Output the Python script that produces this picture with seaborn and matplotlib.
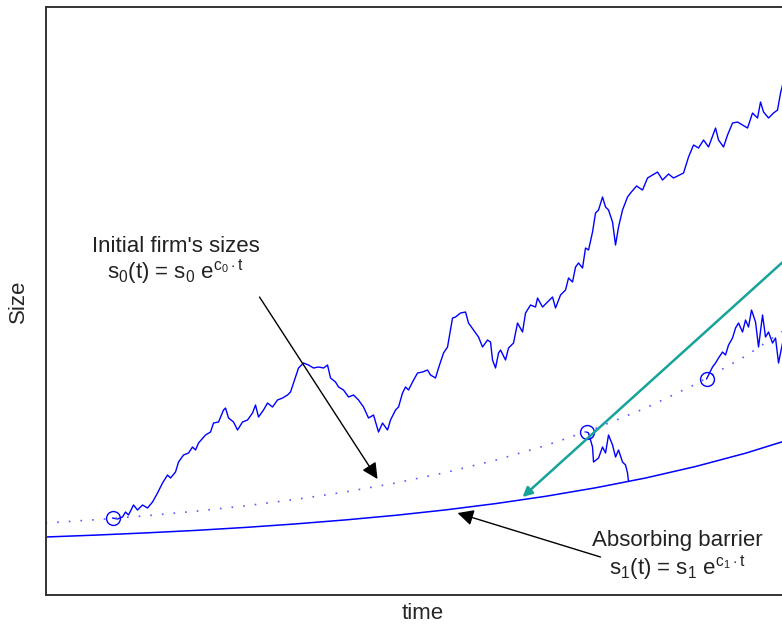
import matplotlib
matplotlib.use("Agg")
import matplotlib.pyplot as plt
import seaborn as sns
import pandas as pd

# ---- data (arbitrary time / size units) ----
# surviving firm, entered at the first circle
path_a_time = [6.7, 7.2, 7.7, 8.0, 8.3, 8.8, 9.2, 9.7, 10.2, 10.7, 11.2, 11.7, 12.2, 12.5, 13.0, 13.3,
               13.8, 14.3, 14.7, 15.0, 15.3, 16.0, 16.5, 16.8, 17.3, 17.8, 18.0, 18.3, 18.8, 19.2, 19.7,
               20.2, 20.7, 21.0, 21.3, 21.8, 22.2, 22.7, 23.2, 23.7, 24.2, 24.5, 24.8, 25.0, 25.3, 25.8,
               26.3, 26.8, 27.3, 27.8, 28.2, 28.5, 29.0, 29.3, 29.8, 30.3, 30.8, 31.3, 31.8, 32.3, 32.8,
               33.3, 33.7, 34.2, 34.5, 35.0, 35.3, 35.7, 36.0, 36.3, 36.7, 37.2, 37.7, 38.2, 38.5, 39.0,
               39.3, 39.8, 40.2, 40.7, 41.0, 41.5, 42.0, 42.3, 42.8, 43.3, 43.7, 44.2, 44.5, 44.7, 45.0,
               45.3, 45.5, 46.0, 46.3, 46.8, 47.2, 47.7, 48.0, 48.5, 49.0, 49.2, 49.7, 50.2, 50.7, 51.0,
               51.5, 52.0, 52.3, 52.7, 53.0, 53.3, 53.7, 54.0, 54.3, 54.7, 55.0, 55.3, 55.7, 56.0, 56.3,
               56.7, 57.0, 57.3, 57.7, 58.2, 58.5, 59.1, 59.7, 60.2, 60.7, 61.2, 61.7, 62.3, 62.8, 63.8,
               64.3, 64.8, 65.3, 65.8, 66.3, 67.0, 67.3, 67.8, 68.2, 68.7, 69.2, 69.7, 70.2, 70.7, 71.2,
               71.5, 71.8, 72.3, 72.8, 73.2, 73.5, 73.7, 74.1]
path_a_size = [4.9, 4.8, 5.0, 5.5, 5.2, 6.2, 5.7, 6.2, 5.9, 6.5, 7.4, 8.4, 9.2, 8.9, 9.5, 10.5,
               11.2, 11.4, 12.0, 11.7, 12.4, 13.2, 13.5, 14.4, 14.5, 15.7, 15.9, 14.9, 14.5, 13.7, 14.5,
               14.7, 15.4, 16.2, 15.0, 15.7, 16.4, 16.0, 16.7, 16.9, 17.2, 17.5, 18.4, 19.0, 19.9, 20.4,
               20.2, 19.9, 20.0, 19.9, 20.2, 18.9, 18.5, 18.0, 17.7, 17.0, 17.2, 16.7, 16.0, 14.9, 15.2,
               13.5, 14.4, 13.7, 14.7, 15.7, 16.0, 17.4, 18.0, 17.7, 18.5, 19.4, 19.5, 19.7, 19.2, 18.9,
               19.9, 21.4, 22.0, 24.9, 25.0, 25.4, 25.5, 24.4, 23.7, 23.0, 22.0, 22.7, 22.5, 20.7, 19.9,
               21.4, 21.7, 20.7, 21.9, 22.4, 24.4, 23.5, 25.4, 26.2, 26.0, 26.9, 26.0, 26.5, 27.0, 25.9,
               27.2, 27.7, 28.9, 28.5, 30.0, 30.4, 29.9, 31.9, 31.7, 33.5, 35.4, 35.7, 37.0, 36.0, 35.7,
               34.5, 32.2, 34.0, 35.7, 37.0, 37.4, 38.1, 37.7, 38.9, 39.2, 39.5, 38.7, 39.3, 38.9, 39.4,
               41.0, 42.2, 41.9, 42.7, 42.0, 43.9, 42.7, 42.0, 43.2, 44.4, 44.5, 44.2, 43.9, 45.4, 44.9,
               46.5, 45.5, 44.9, 45.4, 45.7, 47.4, 48.2, 48.9]

# firm that hits the barrier and exits
path_b_time = [54.1, 54.3, 54.7, 54.8, 55.3, 55.7, 56.0, 56.3, 56.7, 57.0, 57.3, 57.7, 58.0, 58.2, 58.3]
path_b_size = [13.5, 13.4, 12.0, 10.5, 10.9, 12.0, 11.4, 13.2, 12.2, 11.0, 11.7, 10.5, 10.2, 9.4, 8.55]

# late entrant
path_c_time = [66.1, 66.3, 66.7, 67.0, 67.3, 67.7, 68.0, 68.3, 68.7, 69.0, 69.3, 69.7, 70.0, 70.3,
               70.6, 71.0, 71.3, 71.7, 72.0, 72.3, 72.7, 73.0, 73.3, 73.7]
path_c_size = [18.8, 19.2, 20.0, 20.4, 20.9, 21.5, 21.2, 22.2, 22.9, 23.9, 24.4, 23.5, 24.7, 24.0,
               25.7, 24.5, 22.0, 25.2, 23.0, 23.5, 22.4, 22.9, 20.4, 22.4]

# initial size curve s0(t) and absorbing barrier s1(t)
curve_time = [0, 5, 10, 15, 20, 25, 30, 35, 40, 45, 50, 55, 60, 65, 70, 75.5]
initial_size = [4.40, 4.73, 5.12, 5.58, 6.12, 6.76, 7.51, 8.40, 9.45, 10.68, 12.14, 13.86,
                15.89, 18.28, 21.09, 24.79]
barrier_size = [3.00, 3.19, 3.41, 3.66, 3.96, 4.31, 4.71, 5.17, 5.71, 6.34, 7.07, 7.92,
                8.90, 10.05, 11.38, 13.09]

# entry points
entry_time = [6.7, 54.1, 66.1]
entry_size = [4.9, 13.5, 18.8]

# ---- styling ----
sns.set_theme(style="white")
plt.rcParams["font.family"] = ["Liberation Sans", "DejaVu Sans"]
plt.rcParams["mathtext.fontset"] = "custom"
plt.rcParams["mathtext.rm"] = "Liberation Sans"
plt.rcParams["mathtext.it"] = "Liberation Sans"

BLUE = "#0000ff"
fig = plt.figure(figsize=(7.82, 6.26), dpi=100)
ax = fig.add_axes([0.0582, 0.0495, 0.9655, 0.9393])

paths = pd.concat([
    pd.DataFrame({"time": path_a_time, "size": path_a_size, "firm": "a"}),
    pd.DataFrame({"time": path_b_time, "size": path_b_size, "firm": "b"}),
    pd.DataFrame({"time": path_c_time, "size": path_c_size, "firm": "c"}),
])
for firm, grp in paths.groupby("firm"):
    sns.lineplot(data=grp, x="time", y="size", ax=ax, sort=False, estimator=None,
                 color=BLUE, lw=1.0)

sns.lineplot(x=curve_time, y=initial_size, ax=ax, sort=False, estimator=None,
             color="#5a5aff", lw=1.2, linestyle=(0, (1, 6)))
sns.lineplot(x=curve_time, y=barrier_size, ax=ax, sort=False, estimator=None,
             color=BLUE, lw=1.1)
ax.plot(entry_time, entry_size, "o", ms=10, mfc="none", mec=BLUE, mew=1.0)

ax.set_xlim(0, 75.5)
ax.set_ylim(-2.8, 56.0)
ax.set_xticks([])
ax.set_yticks([])
ax.set_xlabel("time", fontsize=16, labelpad=6)
ax.set_ylabel("Size", fontsize=16, labelpad=12)
for side in ["left", "top", "bottom"]:
    ax.spines[side].set_color("#333333")
    ax.spines[side].set_linewidth(1.4)
ax.spines["right"].set_visible(False)

# annotations
ax.text(13.0, 32.1, "Initial firm's sizes", fontsize=16, ha="center", va="center", color="#222222")
ax.text(13.0, 29.5, r"s$_0$(t) = s$_0$ e$^{\mathrm{c}_0\cdot \mathrm{t}}$", fontsize=16,
        ha="center", va="center", color="#222222")
ax.annotate("", xy=(33.2, 8.8), xytext=(21.4, 27.0),
            arrowprops=dict(arrowstyle="-|>", color="black", lw=1.0, mutation_scale=24,
                            shrinkA=0, shrinkB=0))

ax.text(63.2, 2.7, "Absorbing barrier", fontsize=16, ha="center", va="center", color="#222222")
ax.text(63.2, -0.1, r"s$_1$(t) = s$_1$ e$^{\mathrm{c}_1\cdot \mathrm{t}}$", fontsize=16,
        ha="center", va="center", color="#222222")
ax.annotate("", xy=(41.2, 5.4), xytext=(55.5, 1.0),
            arrowprops=dict(arrowstyle="-|>", color="black", lw=1.0, mutation_scale=24,
                            shrinkA=0, shrinkB=0))

ax.annotate("", xy=(47.7, 7.0), xytext=(74.5, 31.2),
            arrowprops=dict(arrowstyle="-|>", color="#17a398", lw=1.8, mutation_scale=14,
                            shrinkA=0, shrinkB=0), annotation_clip=False)

fig.savefig("out.png", dpi=100)
